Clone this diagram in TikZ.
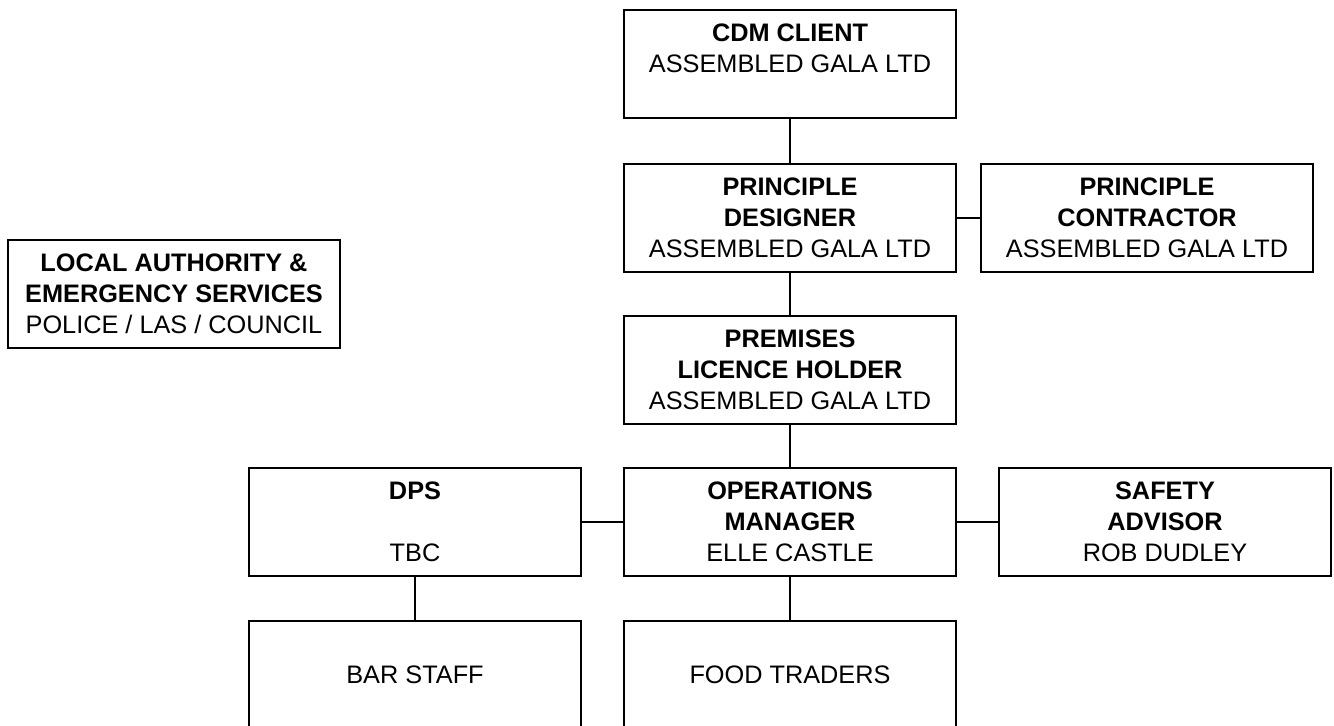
\documentclass[tikz,border=0pt]{standalone}
\usepackage{fontspec}
\setmainfont{Liberation Sans}
\begin{document}
\begin{tikzpicture}[x=0.02cm,y=-0.02cm,
  role/.style={draw,line width=1.5pt,align=center,minimum width=6.64cm,
    minimum height=2.16cm,inner sep=0pt,font=\fontsize{14.4}{17.6}\selectfont},
  link/.style={line width=1.5pt}]
  \useasboundingbox[fill=white] (0,0) rectangle (1334,726);

  % Top of the chain
  \node[role] (cdm) at (790,64) {\textbf{CDM CLIENT}\\ASSEMBLED GALA LTD\\~};
  \node[role] (designer) at (790,218) {\textbf{PRINCIPLE}\\\textbf{DESIGNER}\\ASSEMBLED GALA LTD};
  \node[role] (contractor) at (1147,218) {\textbf{PRINCIPLE}\\\textbf{CONTRACTOR}\\ASSEMBLED GALA LTD};
  \node[role] (premises) at (790,370) {\textbf{PREMISES}\\\textbf{LICENCE HOLDER}\\ASSEMBLED GALA LTD};

  % Outside bodies
  \node[role] (authority) at (174,294) {\textbf{LOCAL AUTHORITY \&}\\\textbf{EMERGENCY SERVICES}\\POLICE / LAS / COUNCIL};

  % Operations row
  \node[role] (ops) at (790,522) {\textbf{OPERATIONS}\\\textbf{MANAGER}\\ELLE CASTLE};
  \node[role] (dps) at (415,522) {\textbf{DPS}\\~\\TBC};
  \node[role] (safety) at (1165,522) {\textbf{SAFETY}\\\textbf{ADVISOR}\\ROB DUDLEY};

  % Staff
  \node[role] (bar) at (415,675) {BAR STAFF};
  \node[role] (food) at (790,675) {FOOD TRADERS};

  % Links
  \draw[link] (cdm) -- (designer);
  \draw[link] (designer) -- (premises);
  \draw[link] (premises) -- (ops);
  \draw[link] (ops) -- (food);
  \draw[link] (dps) -- (bar);
  \draw[link] (designer) -- (contractor);
  \draw[link] (ops) -- (dps);
  \draw[link] (ops) -- (safety);
\end{tikzpicture}
\end{document}
